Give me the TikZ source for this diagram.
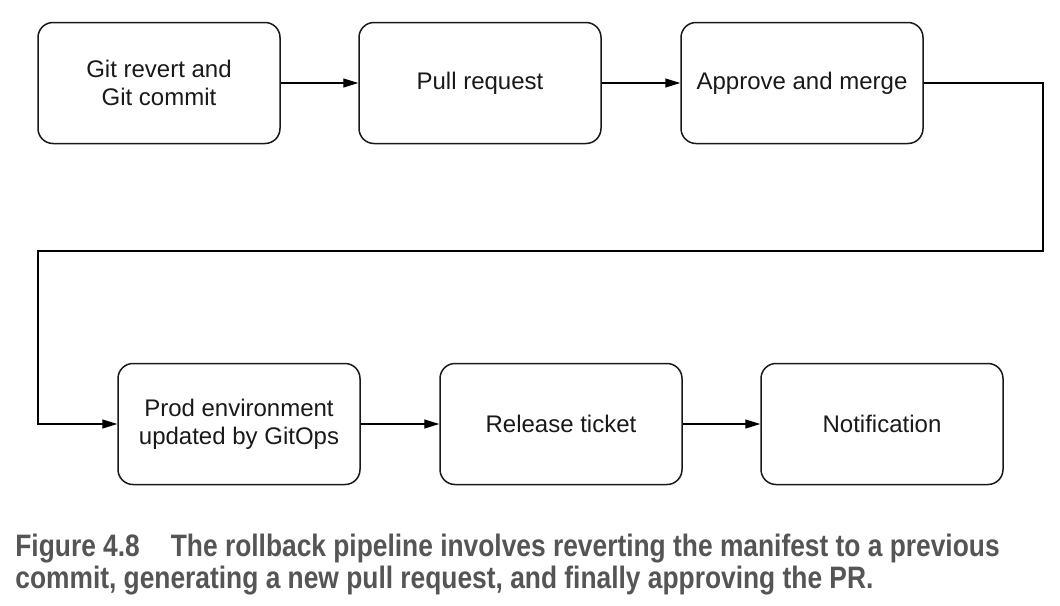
\documentclass[tikz,border=0pt]{standalone}
\usepackage{fontspec}
\setmainfont{Liberation Sans}
\newfontfamily\capfont[FakeStretch=0.85]{Liberation Sans}
\usepackage{tikz}
\usetikzlibrary{arrows.meta}
\definecolor{capgray}{HTML}{555555}
\tikzset{
  stage/.style={draw=black!90, line width=0.75pt, rounded corners=7.5pt,
    minimum width=121pt, minimum height=60.5pt, inner sep=0pt, align=center,
    font=\fontsize{12}{14}\selectfont, text=black!90},
  flow/.style={line width=0.6pt, -{Triangle[length=7.5pt,width=4.5pt]}}
}
\begin{document}
\begin{tikzpicture}[x=0.5pt,y=-0.5pt]
\useasboundingbox (0,0) rectangle (1060,605);
% upper row
\node[stage] (revert) at (159,83) {Git revert and\\Git commit};
\node[stage] (pr) at (480,83) {Pull request};
\node[stage] (merge) at (802,83) {Approve and merge};
% lower row
\node[stage] (prod) at (239,424) {Prod environment\\updated by GitOps};
\node[stage] (ticket) at (561,424) {Release ticket};
\node[stage] (notify) at (882,424) {Notification};
\coordinate (turn) at (1043,251);
\draw[flow] (revert) -- (pr);
\draw[flow] (pr) -- (merge);
\draw[flow] (merge.east) -| (turn) -| (38,424) -- (prod.west);
\draw[flow] (prod) -- (ticket);
\draw[flow] (ticket) -- (notify);
% caption (base anchor sits on the last line)
\node[anchor=base west, align=left, inner sep=0pt, text=capgray,
  font=\capfont\bfseries\fontsize{15.5}{16}\selectfont] (caption) at (15,588)
  {Figure 4.8\quad The rollback pipeline involves reverting the manifest to a previous\\
   commit, generating a new pull request, and finally approving the PR.};
\end{tikzpicture}
\end{document}
